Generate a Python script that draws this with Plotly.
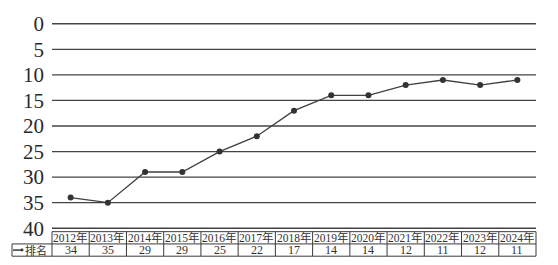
import plotly.graph_objects as go

years = ["2012年", "2013年", "2014年", "2015年", "2016年", "2017年", "2018年",
         "2019年", "2020年", "2021年", "2022年", "2023年", "2024年"]
ranks = [34, 35, 29, 29, 25, 22, 17, 14, 14, 12, 11, 12, 11]
y_ticks = [0, 5, 10, 15, 20, 25, 30, 35, 40]
row_label = "排名"

W, H = 558, 265
L, R, T, B = 52, 22, 19, 36
plot_w = W - L - R
plot_h = H - T - B
xr = (-0.5, len(years) - 0.5)
yr_range = (40.15, -0.15)
ppu = plot_h / (yr_range[0] - yr_range[1])
bottom_gap = (yr_range[0] - 40) * ppu

def px(i):
    return (i - xr[0]) / (xr[1] - xr[0])

def py(pixels_below_40):
    return -(pixels_below_40 - bottom_gap) / plot_h

line_col = "#3a3a3a"
serif_cjk = "Liberation Serif, Times New Roman, Noto Sans CJK SC, serif"

fig = go.Figure()
fig.add_trace(go.Scatter(
    x=list(range(len(years))), y=ranks, mode="lines+markers",
    line=dict(color="#404040", width=1.3),
    marker=dict(color="#333333", size=6),
    showlegend=False, hoverinfo="skip"))

shapes = []
annotations = []
# horizontal grid lines at each tick
for v in y_ticks:
    shapes.append(dict(type="line", xref="paper", yref="y", x0=0, x1=1, y0=v, y1=v,
                       layer="below", line=dict(color="#444444", width=1.3)))

row1_top, row1_bot, row2_bot = 3.5, 16, 28.5
lw = 1
shapes.append(dict(type="line", xref="paper", yref="paper", x0=0, x1=1,
                   y0=py(row1_top), y1=py(row1_top), line=dict(color=line_col, width=lw)))
left_ext = -40 / plot_w
shapes.append(dict(type="line", xref="paper", yref="paper", x0=left_ext, x1=1,
                   y0=py(row1_bot), y1=py(row1_bot), line=dict(color=line_col, width=lw)))
shapes.append(dict(type="line", xref="paper", yref="paper", x0=left_ext, x1=1,
                   y0=py(row2_bot), y1=py(row2_bot), line=dict(color=line_col, width=lw)))
for i in range(len(years) + 1):
    xx = px(i - 0.5)
    shapes.append(dict(type="line", xref="paper", yref="paper", x0=xx, x1=xx,
                       y0=py(row1_top), y1=py(row2_bot), line=dict(color=line_col, width=lw)))
shapes.append(dict(type="line", xref="paper", yref="paper", x0=left_ext, x1=left_ext,
                   y0=py(row1_bot), y1=py(row2_bot), line=dict(color=line_col, width=lw)))
key_x0 = -39 / plot_w
key_x1 = -30 / plot_w
ky = py((row1_bot + row2_bot) / 2)
shapes.append(dict(type="line", xref="paper", yref="paper", x0=key_x0, x1=key_x1,
                   y0=ky, y1=ky, line=dict(color=line_col, width=1.5)))
shapes.append(dict(type="circle", xref="paper", yref="paper",
                   x0=key_x1 - 1.5 / plot_w, x1=key_x1 + 1.5 / plot_w,
                   y0=ky - 1.5 / plot_h, y1=ky + 1.5 / plot_h,
                   fillcolor=line_col, line=dict(color=line_col, width=0)))

for i, (yr, rk) in enumerate(zip(years, ranks)):
    annotations.append(dict(x=i, xref="x", y=py((row1_top + row1_bot) / 2), yref="paper",
                            text=yr, showarrow=False, xanchor="center", yanchor="middle",
                            font=dict(family=serif_cjk, size=11.5, color="#333333")))
    annotations.append(dict(x=i, xref="x", y=py((row1_bot + row2_bot) / 2), yref="paper",
                            text=str(rk), showarrow=False, xanchor="center", yanchor="middle",
                            font=dict(family=serif_cjk, size=12, color="#333333")))
annotations.append(dict(x=-3 / plot_w, xref="paper", y=py((row1_bot + row2_bot) / 2), yref="paper",
                        text=row_label, showarrow=False, xanchor="right", yanchor="middle",
                        font=dict(family=serif_cjk, size=11, color="#333333")))

fig.update_layout(
    width=W, height=H,
    margin=dict(l=L, r=R, t=T, b=B, pad=0),
    paper_bgcolor="white", plot_bgcolor="white",
    xaxis=dict(range=list(xr), showgrid=False, showticklabels=False, zeroline=False,
               showline=False, ticks=""),
    yaxis=dict(range=list(yr_range), tickvals=y_ticks, ticktext=[str(v) for v in y_ticks],
               showgrid=False, zeroline=False,
               showline=False, ticks="", ticklabelstandoff=7,
               tickfont=dict(family="Liberation Serif, Times New Roman, serif", size=21,
                             color="#2a2a2a")),
    shapes=shapes, annotations=annotations,
)

fig.write_html("out.html")
